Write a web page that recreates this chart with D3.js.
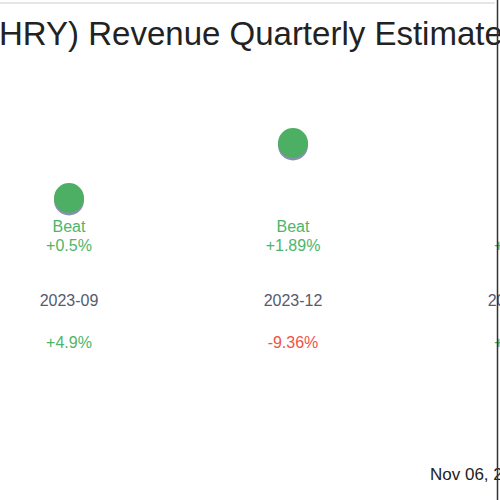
<!DOCTYPE html>
<html><head><meta charset="utf-8">
<script src="https://cdn.jsdelivr.net/npm/d3@7"></script>
<style>body{margin:0;background:#fff}svg{display:block}</style></head>
<body><svg id="c" width="500" height="500"></svg>
<script>
const quarters = ["2023-09","2023-12","2024-03"];
const actual = [100, 110, 96];
const estimate = [99.5, 109.5, 94];
const beatLabels = ["Beat","Beat","Beat"];
const surprise = ["+0.5%","+1.89%","+2.1%"];
const growth = ["+4.9%","-9.36%","+2.4%"];
const titleText = "(HRY) Revenue Quarterly Estimates";
const dateText = "Nov 06, 2024";

const svg = d3.select("#c");
const font = "Liberation Sans, Arial, sans-serif";
const green = "#4db56a", red = "#f0524a";
const x = d3.scalePoint().domain(quarters).range([69, 517]);
const y = d3.scaleLinear().domain([100, 110]).range([198, 143]);

svg.append("line").attr("x1",0).attr("x2",495).attr("y1",3).attr("y2",3).attr("stroke","#e4e6ea").attr("stroke-width",2);

const t = svg.append("text").attr("y",45).attr("font-family",font).attr("font-size",33).attr("fill","#222");
const p = t.append("tspan").text("(");
const w = p.node().getComputedTextLength();
t.attr("x", -w - 1);
t.append("tspan").text(titleText.slice(1));

const g = svg.append("g");
quarters.forEach((q,i)=>{
  const cx = x(q);
  g.append("circle").attr("cx",cx).attr("cy",y(actual[i])+2.5).attr("r",15).attr("fill","#8a8fb0");
  g.append("circle").attr("cx",cx).attr("cy",y(actual[i])).attr("r",15).attr("fill","#4caf63");
  const col = growth[i].startsWith("-") ? red : green;
  g.append("text").attr("x",cx).attr("y",232).attr("text-anchor","middle").attr("font-family",font).attr("font-size",16).attr("fill",green).text(beatLabels[i]);
  g.append("text").attr("x",cx).attr("y",251).attr("text-anchor","middle").attr("font-family",font).attr("font-size",16).attr("fill",green).text(surprise[i]);
  g.append("text").attr("x",cx).attr("y",306).attr("text-anchor","middle").attr("font-family",font).attr("font-size",16).attr("fill","#555a6e").text(q);
  g.append("text").attr("x",cx).attr("y",348).attr("text-anchor","middle").attr("font-family",font).attr("font-size",16).attr("fill",col).text(growth[i]);
});
svg.append("text").attr("x",430).attr("y",480).attr("font-family",font).attr("font-size",17).attr("fill","#222").text(dateText);
svg.append("line").attr("x1",497.5).attr("x2",497.5).attr("y1",0).attr("y2",500).attr("stroke","#333").attr("stroke-width",1.5);
</script></body></html>
